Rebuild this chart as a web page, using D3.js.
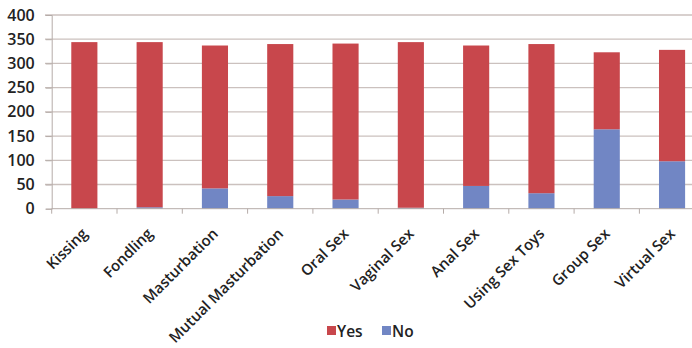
<!DOCTYPE html>
<html>
<head>
<meta charset="utf-8">
<script src="https://cdn.jsdelivr.net/npm/d3@7"></script>
<style>
  body { margin: 0; background: #fff; }
  text { font-family: "Open Sans", sans-serif; fill: #222; }
</style>
</head>
<body>
<div id="chart"></div>
<script>
const categories = ["Kissing", "Fondling", "Masturbation", "Mutual Masturbation", "Oral Sex",
  "Vaginal Sex", "Anal Sex", "Using Sex Toys", "Group Sex", "Virtual Sex"];
const noValues = [0, 3, 42, 26, 19, 2, 47, 32, 164, 98];
const yesValues = [344, 341, 295, 314, 322, 342, 290, 308, 159, 230];
const yTicks = [0, 50, 100, 150, 200, 250, 300, 350, 400];

const width = 692;
const height = 348;

const data = categories.map((c, i) => ({ cat: c, No: noValues[i], Yes: yesValues[i] }));
const stack = d3.stack().keys(["No", "Yes"])(data);
const colors = { Yes: "#c8474c", No: "#7186c4" };

const svg = d3.select("#chart")
  .append("svg")
  .attr("width", width)
  .attr("height", height);

const x = d3.scaleBand()
  .domain(categories)
  .range([51.7, 704.7])
  .paddingInner(0.6)
  .paddingOuter(0.3);

const y = d3.scaleLinear()
  .domain([0, 400])
  .range([208.7, 15]);

// gridlines
svg.append("g")
  .selectAll("line")
  .data(yTicks.slice(1))
  .join("line")
    .attr("x1", 45)
    .attr("x2", width)
    .attr("y1", d => y(d))
    .attr("y2", d => y(d))
    .attr("stroke", "#cbc1be")
    .attr("stroke-width", 1.3);

// bars
svg.append("g")
  .selectAll("g")
  .data(stack)
  .join("g")
    .attr("fill", d => colors[d.key])
  .selectAll("rect")
  .data(d => d)
  .join("rect")
    .attr("x", d => x(d.data.cat))
    .attr("y", d => y(d[1]))
    .attr("height", d => y(d[0]) - y(d[1]))
    .attr("width", x.bandwidth());

// y axis
const yAxis = svg.append("g")
  .attr("transform", "translate(51.7,0)")
  .call(d3.axisLeft(y).tickValues(yTicks).tickSize(6).tickPadding(11));
yAxis.select(".domain").attr("stroke", "#b5aca8");
yAxis.selectAll(".tick line").attr("stroke", "#b5aca8");
yAxis.selectAll(".tick text")
  .attr("font-size", 16)
  .attr("font-weight", 600)
  .style("font-family", "Open Sans, sans-serif")
  .attr("fill", "#222");

// x axis
const xOuter = d3.scalePoint().domain(d3.range(11)).range([51.7, 704.7]);
svg.append("line")
  .attr("x1", 51.7).attr("x2", width)
  .attr("y1", y(0)).attr("y2", y(0))
  .attr("stroke", "#b5aca8");
svg.append("g")
  .selectAll("line")
  .data(d3.range(11))
  .join("line")
    .attr("x1", d => xOuter(d))
    .attr("x2", d => xOuter(d))
    .attr("y1", y(0))
    .attr("y2", y(0) + 5)
    .attr("stroke", "#b5aca8");

svg.append("g")
  .selectAll("text")
  .data(categories)
  .join("text")
    .attr("text-anchor", "end")
    .attr("font-size", 15)
    .attr("font-weight", 600)
    .attr("transform", d => `translate(${x(d) + x.bandwidth() / 2 + 4},${y(0) + 26}) rotate(-45)`)
    .text(d => d);

// legend
const legend = svg.append("g").attr("transform", "translate(327,324)");
[["Yes", 0, colors.Yes], ["No", 55, colors.No]].forEach(([label, dx, c]) => {
  legend.append("rect").attr("x", dx).attr("y", 2).attr("width", 9).attr("height", 9).attr("fill", c);
  legend.append("text").attr("x", dx + 10).attr("y", 12.5).attr("font-size", 15.5).attr("font-weight", 600).text(label);
});
</script>
</body>
</html>
